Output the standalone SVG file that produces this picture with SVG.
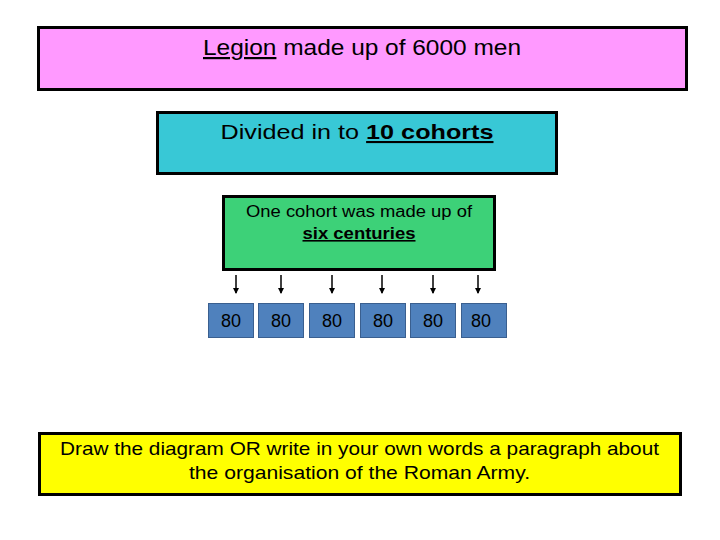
<svg xmlns="http://www.w3.org/2000/svg" width="720" height="540" viewBox="0 0 720 540">
<style>
.box{stroke:#000;stroke-width:3}
.t{font-family:"Comic Sans MS","Liberation Sans",sans-serif;fill:#000}
.u{text-decoration:underline}
.b{font-weight:bold}
.c{fill:#4F81BD;stroke:#3a5f8f;stroke-width:1}
</style>
<defs>
<marker id="ah" viewBox="0 0 6 6" refX="5" refY="3" markerWidth="6" markerHeight="6" markerUnits="userSpaceOnUse" orient="auto">
<path d="M0,0 L6,3 L0,6 Z" fill="#000"/>
</marker>
</defs>
<rect width="720" height="540" fill="#fff"/>
<g id="legion">
<rect class="box" x="38.5" y="27.5" width="648" height="62" fill="#FF99FF"/>
<text class="t" x="362" y="55" font-size="22" text-anchor="middle" textLength="318" lengthAdjust="spacingAndGlyphs"><tspan class="u">Legion</tspan> made up of 6000 men</text>
</g>
<g id="cohorts">
<rect class="box" x="157.5" y="112.5" width="399" height="61" fill="#38C8D6"/>
<text class="t" x="357" y="139" font-size="21" text-anchor="middle" textLength="273" lengthAdjust="spacingAndGlyphs">Divided in to <tspan class="u b">10 cohorts</tspan></text>
</g>
<g id="cohort">
<rect class="box" x="223.5" y="196.5" width="271" height="73" fill="#3DD178"/>
<text class="t" x="359" y="217" font-size="16" text-anchor="middle" textLength="226" lengthAdjust="spacingAndGlyphs">One cohort was made up of</text>
<text class="t u b" x="359" y="239" font-size="16" text-anchor="middle" textLength="113" lengthAdjust="spacingAndGlyphs">six centuries</text>
</g>
<g id="connectors" stroke="#000" stroke-width="1.5">
<line x1="236" y1="275" x2="236" y2="293" marker-end="url(#ah)"/>
<line x1="281" y1="275" x2="281" y2="293" marker-end="url(#ah)"/>
<line x1="332" y1="275" x2="332" y2="293" marker-end="url(#ah)"/>
<line x1="382" y1="275" x2="382" y2="293" marker-end="url(#ah)"/>
<line x1="433" y1="275" x2="433" y2="293" marker-end="url(#ah)"/>
<line x1="478" y1="275" x2="478" y2="293" marker-end="url(#ah)"/>
</g>
<g id="c1"><rect class="c" x="208.5" y="303.5" width="45" height="34"/><text class="t" x="231" y="327" font-size="18" text-anchor="middle">80</text></g>
<g id="c2"><rect class="c" x="258.5" y="303.5" width="45" height="34"/><text class="t" x="281" y="327" font-size="18" text-anchor="middle">80</text></g>
<g id="c3"><rect class="c" x="309.5" y="303.5" width="45" height="34"/><text class="t" x="332" y="327" font-size="18" text-anchor="middle">80</text></g>
<g id="c4"><rect class="c" x="360.5" y="303.5" width="45" height="34"/><text class="t" x="383" y="327" font-size="18" text-anchor="middle">80</text></g>
<g id="c5"><rect class="c" x="410.5" y="303.5" width="45" height="34"/><text class="t" x="433" y="327" font-size="18" text-anchor="middle">80</text></g>
<g id="c6"><rect class="c" x="461.5" y="303.5" width="45" height="34"/><text class="t" x="481" y="327" font-size="18" text-anchor="middle">80</text></g>
<g id="task">
<rect class="box" x="39.5" y="433.5" width="641" height="61" fill="#FFFF00"/>
<text class="t" x="359.5" y="455" font-size="19" text-anchor="middle" textLength="599" lengthAdjust="spacingAndGlyphs">Draw the diagram OR write in your own words a paragraph about</text>
<text class="t" x="359.5" y="479" font-size="19" text-anchor="middle" textLength="341" lengthAdjust="spacingAndGlyphs">the organisation of the Roman Army.</text>
</g>
</svg>
